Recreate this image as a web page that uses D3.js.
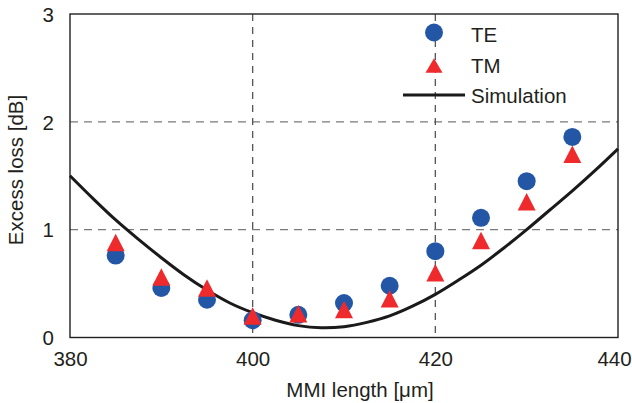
<!DOCTYPE html>
<html>
<head>
<meta charset="utf-8">
<script src="https://cdn.jsdelivr.net/npm/d3@7"></script>
<style>
  html, body { margin: 0; padding: 0; background: #fff; }
  text { font-family: "Liberation Sans", Arial, sans-serif; fill: #231f20; }
</style>
</head>
<body>
<svg id="chart" width="632" height="403"></svg>
<script>
const lengths = [385, 390, 395, 400, 405, 410, 415, 420, 425, 430, 435];
const teLoss = [0.76, 0.46, 0.35, 0.16, 0.21, 0.32, 0.48, 0.80, 1.11, 1.45, 1.86];
const tmLoss = [0.88, 0.56, 0.46, 0.20, 0.22, 0.26, 0.36, 0.60, 0.90, 1.26, 1.70];
const simLength = [380, 382.5, 385, 387.5, 390, 392.5, 395, 397.5, 400, 402.5, 405, 407.5, 410, 412.5, 415, 417.5, 420, 422.5, 425, 427.5, 430, 432.5, 435, 437.5, 440];
const simLoss = [1.50, 1.29, 1.09, 0.91, 0.74, 0.58, 0.44, 0.32, 0.23, 0.16, 0.11, 0.09, 0.10, 0.14, 0.20, 0.29, 0.40, 0.53, 0.67, 0.83, 1.00, 1.18, 1.36, 1.55, 1.75];
const xTicks = [380, 400, 420, 440];
const yTicks = [0, 1, 2, 3];
const xGrid = [400, 420];
const yGrid = [1, 2];
const legendLabels = ["TE", "TM", "Simulation"];

const blue = "#2356a5", red = "#ee2a2d";
const svg = d3.select("#chart");
const m = {left: 70, right: 618, top: 14, bottom: 337.5};
const x = d3.scaleLinear().domain([380, 440]).range([m.left, m.right]);
const y = d3.scaleLinear().domain([0, 3]).range([m.bottom, m.top]);

// grid
svg.append("g").selectAll("line").data(yGrid).join("line")
  .attr("x1", m.left).attr("x2", m.right)
  .attr("y1", d => y(d)).attr("y2", d => y(d))
  .attr("stroke", "#7a7a7a").attr("stroke-width", 1.3).attr("stroke-dasharray", "8,6");
svg.append("g").selectAll("line").data(xGrid).join("line")
  .attr("x1", d => x(d)).attr("x2", d => x(d))
  .attr("y1", m.top).attr("y2", m.bottom)
  .attr("stroke", "#555").attr("stroke-width", 1.3).attr("stroke-dasharray", "7,6");

// frame
svg.append("rect").attr("x", m.left).attr("y", m.top)
  .attr("width", m.right - m.left).attr("height", m.bottom - m.top)
  .attr("fill", "none").attr("stroke", "#231f20").attr("stroke-width", 1.4);

// axes (labels only)
const xAxis = d3.axisBottom(x).tickValues(xTicks).tickSize(0).tickPadding(0).tickFormat(d3.format("d"));
const gx = svg.append("g").attr("transform", `translate(0,${m.bottom})`).call(xAxis);
gx.select(".domain").remove();
gx.selectAll("text").attr("font-size", "20.5px").attr("dy", null).attr("y", 28)
  .attr("dx", d => d === 440 ? -4 : 0)
  .attr("font-family", "Liberation Sans, Arial, sans-serif").attr("fill", "#231f20");

const yAxis = d3.axisLeft(y).tickValues(yTicks).tickSize(0).tickPadding(0).tickFormat(d3.format("d"));
const gy = svg.append("g").attr("transform", `translate(${m.left},0)`).call(yAxis);
gy.select(".domain").remove();
gy.selectAll("text").attr("font-size", "20.5px").attr("x", -16).attr("dy", "0.35em")
  .attr("font-family", "Liberation Sans, Arial, sans-serif").attr("fill", "#231f20");

// titles
svg.append("text").attr("x", 360).attr("y", 397).attr("text-anchor", "middle")
  .attr("font-size", "20.5px").text("MMI length [μm]");
svg.append("text").attr("transform", "translate(23,170) rotate(-90)").attr("text-anchor", "middle")
  .attr("font-size", "20.5px").text("Excess loss [dB]");

// simulation curve
const line = d3.line().x(d => x(d[0])).y(d => y(d[1])).curve(d3.curveCatmullRom);
svg.append("path").datum(simLength.map((l, i) => [l, simLoss[i]]))
  .attr("d", line).attr("fill", "none").attr("stroke", "#1a1a1a").attr("stroke-width", 3);

// markers
function tri(cx, cy, w, h) {
  return `M${cx},${cy - h / 2}L${cx + w / 2},${cy + h / 2}L${cx - w / 2},${cy + h / 2}Z`;
}
svg.append("g").selectAll("circle").data(lengths).join("circle")
  .attr("cx", d => x(d)).attr("cy", (d, i) => y(teLoss[i])).attr("r", 9).attr("fill", blue);
svg.append("g").selectAll("path").data(lengths).join("path")
  .attr("d", (d, i) => tri(x(d), y(tmLoss[i]), 18, 17.5)).attr("fill", red);

// legend
const lg = svg.append("g");
lg.append("circle").attr("cx", 434).attr("cy", 32.5).attr("r", 9).attr("fill", blue);
lg.append("path").attr("d", tri(434, 65.5, 17, 14.5)).attr("fill", red);
lg.append("line").attr("x1", 403).attr("x2", 465).attr("y1", 95).attr("y2", 95)
  .attr("stroke", "#1a1a1a").attr("stroke-width", 3);
lg.selectAll("text").data(legendLabels).join("text")
  .attr("x", 471).attr("y", (d, i) => [41.5, 72.5, 103][i])
  .attr("font-size", "20.5px").text(d => d);
</script>
</body>
</html>
